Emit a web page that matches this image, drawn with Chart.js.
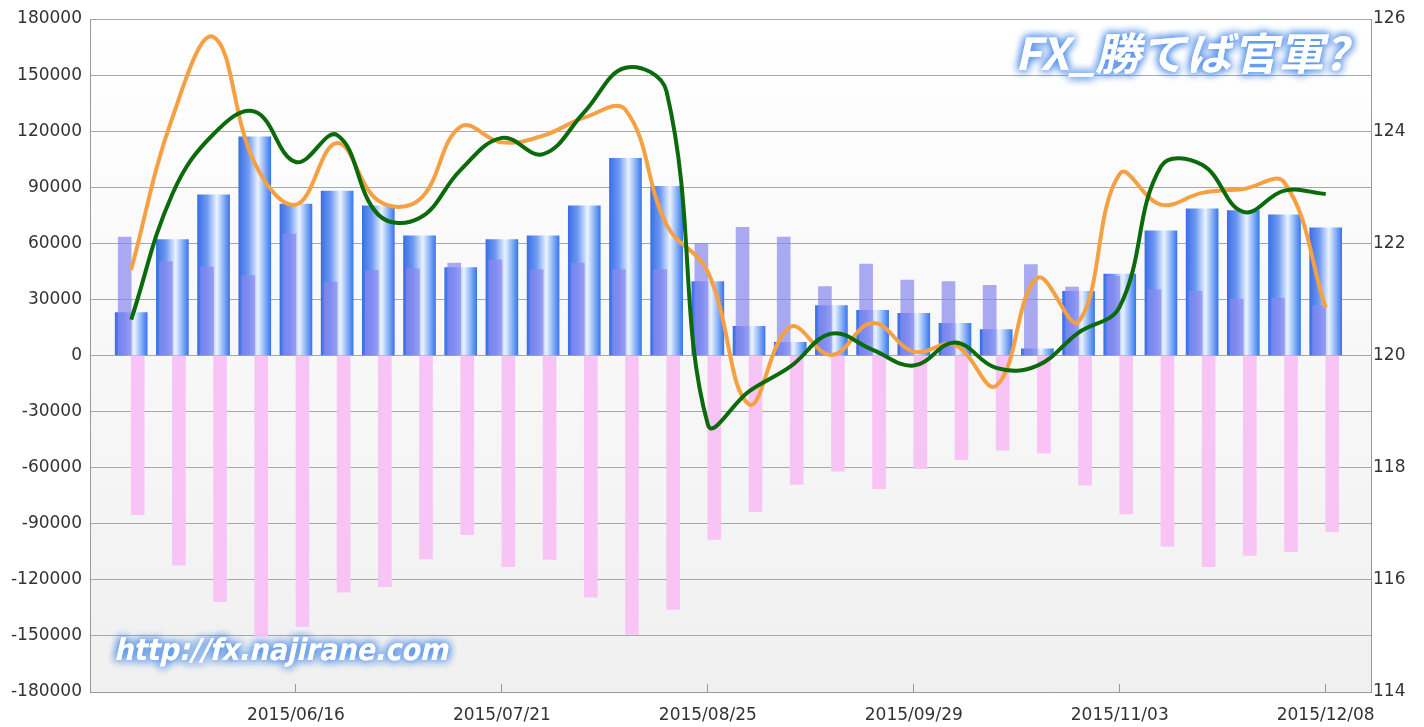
<!DOCTYPE html>
<html>
<head>
<meta charset="utf-8">
<script src="https://cdn.jsdelivr.net/npm/chart.js@4.4.0/dist/chart.umd.min.js"></script>
<style>
  html, body { margin: 0; padding: 0; background: #ffffff; }
  #wrap { width: 1424px; height: 727px; }
</style>
</head>
<body>
<div id="wrap"><canvas id="posChart" width="1424" height="727"></canvas></div>
<script>
// 週ごとの日付ラベル
const weeks = [
  '2015/05/19', '2015/05/26', '2015/06/02', '2015/06/09', '2015/06/16',
  '2015/06/23', '2015/06/30', '2015/07/07', '2015/07/14', '2015/07/21',
  '2015/07/28', '2015/08/04', '2015/08/11', '2015/08/18', '2015/08/25',
  '2015/09/01', '2015/09/08', '2015/09/15', '2015/09/22', '2015/09/29',
  '2015/10/06', '2015/10/13', '2015/10/20', '2015/10/27', '2015/11/03',
  '2015/11/10', '2015/11/17', '2015/11/24', '2015/12/01', '2015/12/08'
];
// 目盛りを表示する週 (5週ごと)
const labelWeeks = [4, 9, 14, 19, 24, 29];

// ネットポジション (青)
const netPos = [23000, 62000, 86000, 117000, 81000, 88000, 80000, 64000, 47000, 62000,
  64000, 80000, 105500, 90500, 39500, 15600, 7000, 26700, 24200, 22500,
  17200, 13800, 3600, 34300, 43500, 66700, 78400, 77500, 75200, 68300];
// 買いポジション (紫)
const longPos = [63300, 50300, 47300, 42800, 65000, 39300, 45500, 46400, 49400, 51200,
  45900, 49400, 45900, 45900, 60000, 68500, 63300, 36900, 48900, 40300,
  39500, 37500, 48700, 36600, 42300, 35200, 34300, 30200, 30700, 26600];
// 売りポジション (ピンク)
const shortPos = [-85100, -112200, -131700, -150100, -145100, -126600, -123700, -108800, -95800, -113000,
  -109100, -129300, -149200, -135800, -98400, -83600, -69000, -61900, -71200, -60500,
  -55700, -50700, -52100, -69400, -84700, -102000, -113000, -107000, -105000, -94200];
// レート (右軸)
const greenLine = [120.64, 122.88, 123.95, 124.35, 123.45, 123.93, 122.51, 122.45, 123.31, 123.88,
  123.59, 124.34, 125.13, 124.70, 118.77, 119.36, 119.80, 120.39, 120.10, 119.82,
  120.23, 119.78, 119.82, 120.41, 120.87, 123.37, 123.40, 122.56, 122.94, 122.88];
const orangeLine = [121.53, 124.24, 125.68, 123.43, 122.69, 123.79, 122.76, 122.78, 124.08, 123.80,
  123.92, 124.24, 124.38, 122.33, 121.49, 119.13, 120.51, 120.01, 120.58, 120.07,
  120.19, 119.46, 121.38, 120.60, 123.24, 122.69, 122.90, 122.97, 123.08, 120.85];

const toXY = (arr) => arr.map((v, i) => ({ x: i, y: v }));

// 青い棒のグラデーション (棒ごとに作る)
function blueGradient(ctx) {
  const chart = ctx.chart;
  const xs = chart.scales.x;
  if (!chart.chartArea || !xs || ctx.dataIndex === undefined) return '#4a80f0';
  const cx = xs.getPixelForValue(ctx.dataIndex);
  const g = chart.ctx.createLinearGradient(cx - 16, 0, cx + 16, 0);
  g.addColorStop(0, '#3b6fe6');
  g.addColorStop(0.3, '#6f9af2');
  g.addColorStop(0.6, '#eaf3ff');
  g.addColorStop(0.82, '#86b0f6');
  g.addColorStop(1, '#3a78ee');
  return g;
}

// 背景とロゴ文字
const decoPlugin = {
  id: 'deco',
  beforeDraw(chart) {
    const { ctx, chartArea: a } = chart;
    const g = ctx.createLinearGradient(0, a.top, 0, a.bottom);
    g.addColorStop(0, '#ffffff');
    g.addColorStop(1, '#f0f0f0');
    ctx.save();
    ctx.fillStyle = g;
    ctx.fillRect(a.left, a.top, a.right - a.left, a.bottom - a.top);
    ctx.restore();
  },
  afterDraw(chart) {
    const ctx = chart.ctx;
    const drawLogo = (text, font, x, baseY, width) => {
      ctx.save();
      ctx.font = font;
      const w = ctx.measureText(text).width;
      ctx.translate(x, baseY);
      ctx.transform(width / w, 0, -0.22, 1, 0, 0);
      ctx.fillStyle = '#ffffff';
      ctx.shadowColor = 'rgba(90,150,235,0.95)';
      ctx.shadowBlur = 9;
      ctx.textBaseline = 'alphabetic';
      for (let k = 0; k < 3; k++) ctx.fillText(text, 0, 0);
      ctx.restore();
    };
    drawLogo('FX_勝てば官軍?', 'bold 44px "Noto Sans CJK JP"', 1015, 70, 333);
    drawLogo('http://fx.najirane.com', 'bold 30px "DejaVu Sans"', 114, 660, 334);
  }
};

const tickFont = { family: '"DejaVu Sans", sans-serif', size: 17 };

new Chart(document.getElementById('posChart'), {
  type: 'bar',
  data: {
    datasets: [
      { type: 'line', label: 'green', data: toXY(greenLine), yAxisID: 'y1', borderColor: '#0b6a0b',
        borderWidth: 4, pointRadius: 0, tension: 0.4, order: 0 },
      { type: 'line', label: 'orange', data: toXY(orangeLine), yAxisID: 'y1', borderColor: '#f5a043',
        borderWidth: 4, pointRadius: 0, tension: 0.4, order: 1 },
      { label: 'long', data: toXY(longPos), backgroundColor: 'rgba(135,135,240,0.7)',
        barThickness: 13, stack: 'L', order: 2 },
      { label: 'net', data: toXY(netPos), backgroundColor: blueGradient,
        barThickness: 32, grouped: false, order: 3 },
      { label: 'short', data: toXY(shortPos), backgroundColor: '#f8c4f6',
        barThickness: 13, stack: 'S', order: 4 }
    ]
  },
  options: {
    responsive: false,
    animation: false,
    layout: { padding: { top: 19, left: 0, right: 0, bottom: 0 } },
    plugins: { legend: { display: false }, tooltip: { enabled: false } },
    scales: {
      x: {
        type: 'linear',
        min: -1,
        max: 30.1,
        offset: false,
        stacked: false,
        afterBuildTicks: (scale) => { scale.ticks = labelWeeks.map(v => ({ value: v })); },
        afterFit: (scale) => { scale.height = 35; },
        grid: { offset: false, drawOnChartArea: false, drawTicks: true, tickLength: -8, color: '#999999' },
        border: { color: '#999999' },
        ticks: {
          autoSkip: false, maxRotation: 0, padding: 21, color: '#333333', font: tickFont,
          callback: (v) => weeks[v] || ''
        }
      },
      y: {
        position: 'left',
        min: -180000,
        max: 180000,
        afterFit: (scale) => { scale.width = 90; },
        grid: { color: '#a8a8a8', drawTicks: false },
        border: { color: '#999999' },
        ticks: { stepSize: 30000, padding: 8, color: '#333333', font: tickFont,
          callback: (v) => String(v) }
      },
      y1: {
        position: 'right',
        min: 114,
        max: 126,
        afterFit: (scale) => { scale.width = 53; },
        grid: { drawOnChartArea: false, drawTicks: false },
        border: { color: '#999999' },
        ticks: { stepSize: 2, padding: 2, color: '#333333', font: tickFont,
          callback: (v) => String(v) }
      }
    }
  },
  plugins: [decoPlugin]
});
</script>
</body>
</html>
